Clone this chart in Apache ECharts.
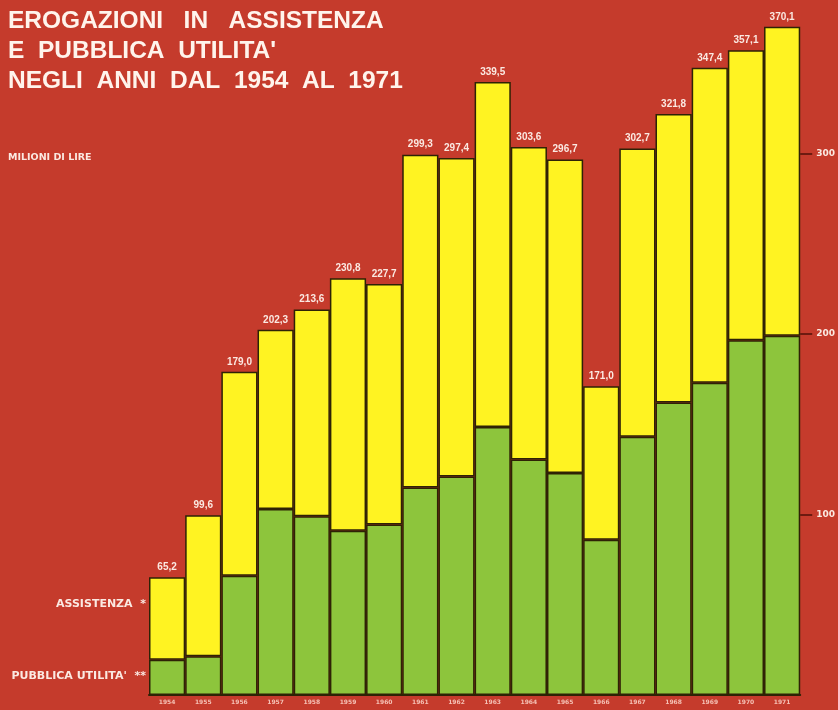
<!DOCTYPE html>
<html>
<head>
<meta charset="utf-8">
<script src="https://cdn.jsdelivr.net/npm/echarts@6/dist/echarts.min.js"></script>
<style>
html,body{margin:0;padding:0;background:#c53b2c;}
#c{width:838px;height:710px;}
</style>
</head>
<body>
<div id="c"></div>
<script>
// Data (milioni di lire)
const years = ['1954','1955','1956','1957','1958','1959','1960','1961','1962','1963','1964','1965','1966','1967','1968','1969','1970','1971'];
const totals = [65.2, 99.6, 179.0, 202.3, 213.6, 230.8, 227.7, 299.3, 297.4, 339.5, 303.6, 296.7, 171.0, 302.7, 321.8, 347.4, 357.1, 370.1];
const pubblicaUtilita = [19.5, 21.5, 66, 103, 99, 91, 94.5, 115, 121, 148.5, 130.5, 123, 86, 143, 162, 173, 196.5, 199];
const axisTicks = [100, 200, 300];

const assistenza = totals.map((t, i) => +(t - pubblicaUtilita[i]).toFixed(1));

const RED = '#c53b2c', YELLOW = '#fff322', GREEN = '#8dc53c', EDGE = '#2e2205', TXT = '#fbe9e2';

const chart = echarts.init(document.getElementById('c'), null, {renderer: 'canvas'});
chart.setOption({
  backgroundColor: RED,
  animation: false,
  grid: {left: 149, right: 37, top: 9, bottom: 15, containLabel: false},
  xAxis: {
    type: 'category',
    data: years,
    axisLine: {show: true, lineStyle: {color: EDGE, width: 2}},
    axisTick: {show: false},
    axisLabel: {color: '#f5c0b4', fontFamily: 'DejaVu Sans', fontWeight: 'bold', fontSize: 6, margin: 4, interval: 0}
  },
  yAxis: {
    type: 'value',
    position: 'right',
    min: 0, max: 380, interval: 100,
    splitLine: {show: false},
    axisLine: {show: true, lineStyle: {color: EDGE, opacity: 0}},
    axisTick: {show: true, length: 12, customValues: axisTicks, lineStyle: {color: '#6e1a10', width: 2}},
    axisLabel: {show: true, customValues: axisTicks, color: TXT, fontFamily: 'DejaVu Sans', fontWeight: 'bold', fontSize: 9, margin: 16}
  },
  series: [
    {
      name: 'PUBBLICA UTILITA\'', type: 'bar', stack: 'tot',
      data: pubblicaUtilita,
      itemStyle: {color: GREEN, borderColor: EDGE, borderWidth: 1.5},
      barWidth: '100%', barCategoryGap: '0%'
    },
    {
      name: 'ASSISTENZA', type: 'bar', stack: 'tot',
      data: assistenza,
      itemStyle: {color: YELLOW, borderColor: EDGE, borderWidth: 1.5},
      barWidth: '100%', barCategoryGap: '0%',
      label: {
        show: true, position: 'top', distance: 5,
        color: TXT, fontFamily: 'Liberation Sans', fontWeight: 'bold', fontSize: 10,
        formatter: p => totals[p.dataIndex].toFixed(1).replace('.', ',')
      }
    }
  ],
  graphic: [
    {type: 'text', left: 8, top: 8.5, style: {text: 'EROGAZIONI   IN   ASSISTENZA', fill: '#fff4ec', font: 'bold 24.5px "Liberation Sans"'}},
    {type: 'text', left: 8, top: 38.5, style: {text: 'E  PUBBLICA  UTILITA\'', fill: '#fff4ec', font: 'bold 24.5px "Liberation Sans"'}},
    {type: 'text', left: 8, top: 69, style: {text: 'NEGLI  ANNI  DAL  1954  AL  1971', fill: '#fff4ec', font: 'bold 24.5px "Liberation Sans"'}},
    {type: 'text', left: 8, top: 153, style: {text: 'MILIONI DI LIRE', fill: TXT, font: 'bold 9.5px "DejaVu Sans"'}},
    {type: 'text', right: 838 - 146, top: 599, style: {text: 'ASSISTENZA  *', fill: TXT, font: 'bold 11px "DejaVu Sans"', align: 'right'}},
    {type: 'text', right: 838 - 146, top: 671, style: {text: 'PUBBLICA UTILITA\'  **', fill: TXT, font: 'bold 11px "DejaVu Sans"', align: 'right'}}
  ]
});
</script>
</body>
</html>
